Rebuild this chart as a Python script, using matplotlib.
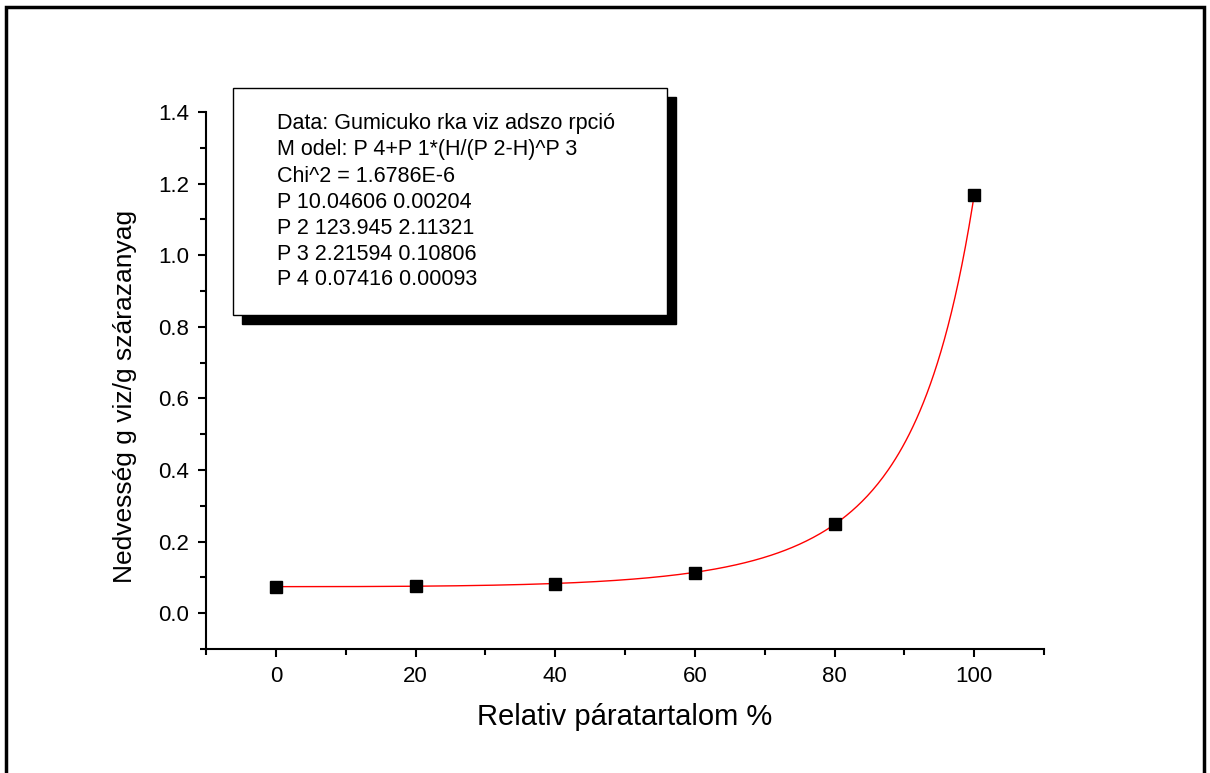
import numpy as np
import matplotlib
matplotlib.use("Agg")
import matplotlib.pyplot as plt
from matplotlib.patches import Rectangle
from matplotlib.ticker import MultipleLocator

plt.rcParams["font.family"] = ["Liberation Sans", "DejaVu Sans"]

# measured points
humidity = [0, 20, 40, 60, 80, 100]
moisture = [0.074, 0.077, 0.082, 0.113, 0.248, 1.167]

# fitted parameters (from the fit box)
P1 = 0.04606
P2 = 123.945
P3 = 2.21594
P4 = 0.07416

box_lines = [
    "Data: Gumicuko rka viz adszo rpció",
    "M odel: P 4+P 1*(H/(P 2-H)^P 3",
    "Chi^2 = 1.6786E-6",
    "P 10.04606 0.00204",
    "P 2 123.945 2.11321",
    "P 3 2.21594 0.10806",
    "P 4 0.07416 0.00093",
]

W, H = 1210, 773
fig = plt.figure(figsize=(W / 100, H / 100), dpi=100)
ax = fig.add_axes([206 / W, 1 - 649 / H, (1044 - 206) / W, (649 - 112) / H])

# fitted curve
h = np.linspace(humidity[0], humidity[-1], 400)
fit = P4 + P1 * (h / (P2 - h)) ** P3
ax.plot(h, fit, color="red", lw=1.0, zorder=2)
ax.plot(humidity, moisture, ls="none", marker="s", ms=8.5, color="black", zorder=3)

ax.set_xlim(-10, 110)
ax.set_ylim(-0.1, 1.4)
ax.xaxis.set_minor_locator(MultipleLocator(10))
ax.yaxis.set_minor_locator(MultipleLocator(0.1))
ax.set_xticks([0, 20, 40, 60, 80, 100])
ax.set_xticklabels(["0", "20", "40", "60", "80", "100"])
yt = [0.0, 0.2, 0.4, 0.6, 0.8, 1.0, 1.2, 1.4]
ax.set_yticks(yt)
ax.set_yticklabels([f"{v:.1f}" for v in yt])

for side in ["top", "right"]:
    ax.spines[side].set_visible(False)
for side in ["left", "bottom"]:
    ax.spines[side].set_linewidth(1.5)
ax.tick_params(which="major", direction="out", length=6, width=1.5, labelsize=16, pad=6)
ax.tick_params(which="minor", direction="out", length=4, width=1.5)

# axis titles
fig.text(625 / W, 1 - 717 / H, "Relativ páratartalom %", fontsize=21,
         ha="center", va="center")
fig.text(125 / W, 1 - 396 / H, "Nedvesség g viz/g szárazanyag", fontsize=19,
         rotation=90, ha="center", va="center")

# fit results box with shadow
bx0, by0, bx1, by1 = 233, 88, 667, 315
sh = 9
fig.patches.append(Rectangle(((bx0 + sh) / W, 1 - (by1 + sh) / H),
                             (bx1 - bx0) / W, (by1 - by0) / H,
                             transform=fig.transFigure, facecolor="black",
                             edgecolor="black", zorder=5))
fig.patches.append(Rectangle((bx0 / W, 1 - by1 / H),
                             (bx1 - bx0) / W, (by1 - by0) / H,
                             transform=fig.transFigure, facecolor="white",
                             edgecolor="black", lw=1.0, zorder=6))
for i, line in enumerate(box_lines):
    fig.text(277 / W, 1 - (124 + i * 26.0) / H, line, fontsize=15.5,
             va="center", ha="left", zorder=7)

# outer frame
fig.patches.append(Rectangle((6 / W, -0.05), (1204 - 6) / W, 1.05 - 7 / H,
                             transform=fig.transFigure, fill=False,
                             edgecolor="black", lw=2.5, zorder=8))

fig.savefig("out.png", dpi=100)
